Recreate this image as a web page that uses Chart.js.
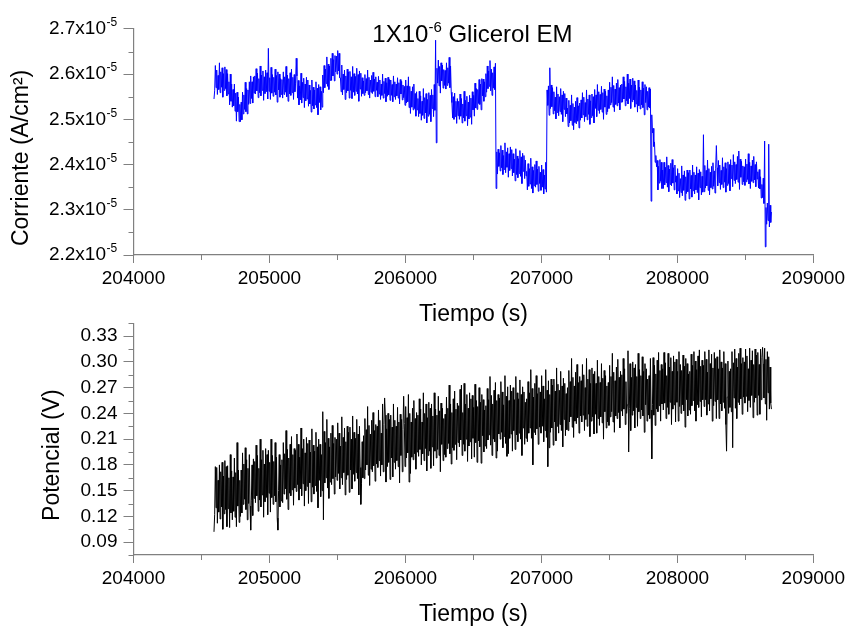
<!DOCTYPE html>
<html>
<head>
<meta charset="utf-8">
<script src="https://cdn.jsdelivr.net/npm/chart.js@4.4.0/dist/chart.umd.min.js"></script>
<style>
    body { margin: 0; background: #fff; }
    #wrap { position: relative; width: 849px; height: 626px; }
    canvas { position: absolute; left: 0; }
    #currentChart { top: 0; }
    #potentialChart { top: 300px; }
</style>
</head>
<body>
<div id="wrap">
    <canvas id="currentChart" width="849" height="326"></canvas>
    <canvas id="potentialChart" width="849" height="326"></canvas>
</div>
<script>
// sampling: first point at T0 seconds, one point every DT seconds
const T0 = 204592;
const DT = 5;

// current density, in 1e-8 A/cm2 (2585 -> 2.585x10^-5), one row = 100 s
const current = [
    2545, 2563, 2619, 2570, 2609, 2555, 2597, 2566, 2625, 2559, 2605, 2571, 2614, 2549, 2601, 2564, 2616, 2568, 2610, 2552,
    2601, 2556, 2583, 2532, 2600, 2540, 2578, 2527, 2566, 2530, 2578, 2518, 2558, 2496, 2560, 2517, 2549, 2495, 2533, 2495,
    2538, 2499, 2560, 2512, 2554, 2522, 2582, 2517, 2568, 2512, 2565, 2533, 2583, 2535, 2596, 2546, 2583, 2536, 2594, 2558,
    2596, 2556, 2612, 2563, 2602, 2548, 2590, 2559, 2618, 2552, 2598, 2564, 2607, 2542, 2594, 2557, 2609, 2561, 2603, 2545,
    2657, 2562, 2592, 2544, 2615, 2558, 2599, 2551, 2593, 2560, 2611, 2554, 2597, 2538, 2605, 2565, 2600, 2549, 2590, 2555,
    2588, 2547, 2605, 2555, 2594, 2560, 2617, 2550, 2598, 2540, 2590, 2556, 2603, 2553, 2611, 2559, 2593, 2544, 2599, 2561,
    2580, 2635, 2596, 2547, 2586, 2532, 2574, 2543, 2602, 2536, 2582, 2548, 2591, 2526, 2578, 2541, 2593, 2545, 2587, 2529,
    2576, 2534, 2564, 2516, 2587, 2530, 2571, 2523, 2565, 2532, 2583, 2526, 2569, 2510, 2577, 2537, 2572, 2521, 2562, 2527,
    2598, 2559, 2619, 2570, 2611, 2579, 2638, 2573, 2622, 2566, 2618, 2586, 2635, 2586, 2646, 2596, 2632, 2585, 2641, 2605,
    2640, 2600, 2652, 2607, 2646, 2592, 2592, 2561, 2620, 2554, 2600, 2566, 2609, 2544, 2596, 2559, 2611, 2563, 2605, 2547,
    2606, 2564, 2594, 2546, 2617, 2560, 2601, 2553, 2595, 2562, 2613, 2556, 2599, 2540, 2607, 2567, 2602, 2551, 2592, 2557,
    2585, 2553, 2599, 2559, 2590, 2563, 2609, 2555, 2593, 2547, 2587, 2560, 2597, 2557, 2604, 2562, 2589, 2550, 2594, 2564,
    2582, 2550, 2595, 2556, 2587, 2544, 2578, 2553, 2600, 2547, 2584, 2557, 2591, 2539, 2581, 2551, 2593, 2554, 2588, 2542,
    2587, 2553, 2577, 2539, 2596, 2550, 2583, 2544, 2578, 2552, 2592, 2547, 2581, 2534, 2588, 2556, 2584, 2543, 2576, 2548,
    2573, 2531, 2587, 2536, 2574, 2539, 2594, 2526, 2573, 2513, 2562, 2527, 2572, 2521, 2578, 2524, 2557, 2507, 2561, 2521,
    2546, 2506, 2562, 2513, 2552, 2498, 2540, 2509, 2568, 2502, 2548, 2514, 2557, 2492, 2544, 2507, 2559, 2511, 2553, 2495,
    2566, 2524, 2554, 2506, 2577, 2520, 2675, 2448, 2613, 2580, 2631, 2574, 2617, 2558, 2625, 2585, 2620, 2569, 2610, 2575,
    2608, 2567, 2625, 2575, 2614, 2580, 2637, 2570, 2618, 2560, 2537, 2503, 2550, 2500, 2558, 2506, 2540, 2491, 2546, 2508,
    2540, 2500, 2556, 2507, 2546, 2492, 2534, 2503, 2562, 2496, 2542, 2508, 2551, 2486, 2538, 2501, 2553, 2505, 2547, 2489,
    2561, 2521, 2553, 2507, 2580, 2525, 2568, 2522, 2566, 2535, 2588, 2533, 2578, 2521, 2590, 2552, 2589, 2540, 2583, 2550,
    2601, 2560, 2618, 2568, 2607, 2573, 2630, 2563, 2611, 2553, 2603, 2569, 2616, 2566, 2624, 2347, 2428, 2379, 2434, 2396,
    2426, 2386, 2442, 2393, 2432, 2378, 2420, 2389, 2448, 2382, 2428, 2394, 2437, 2372, 2424, 2387, 2439, 2391, 2433, 2375,
    2424, 2382, 2412, 2364, 2435, 2378, 2419, 2371, 2413, 2380, 2431, 2374, 2417, 2358, 2425, 2385, 2420, 2369, 2410, 2375,
    2385, 2344, 2402, 2352, 2391, 2357, 2414, 2347, 2395, 2337, 2387, 2353, 2400, 2350, 2408, 2356, 2390, 2341, 2396, 2358,
    2383, 2343, 2399, 2350, 2389, 2335, 2377, 2346, 2405, 2339, 2565, 2531, 2574, 2509, 2614, 2524, 2576, 2528, 2570, 2512,
    2561, 2519, 2549, 2501, 2572, 2515, 2556, 2508, 2550, 2517, 2568, 2511, 2554, 2495, 2562, 2522, 2557, 2506, 2547, 2512,
    2525, 2484, 2542, 2492, 2531, 2497, 2554, 2487, 2535, 2477, 2527, 2493, 2540, 2490, 2548, 2496, 2530, 2481, 2536, 2498,
    2543, 2503, 2559, 2510, 2549, 2495, 2537, 2506, 2565, 2499, 2545, 2511, 2554, 2489, 2541, 2504, 2556, 2508, 2550, 2492,
    2566, 2524, 2554, 2506, 2577, 2520, 2561, 2513, 2555, 2522, 2573, 2516, 2559, 2500, 2567, 2527, 2562, 2511, 2552, 2517,
    2565, 2524, 2582, 2532, 2571, 2537, 2594, 2527, 2575, 2517, 2567, 2533, 2580, 2530, 2588, 2536, 2570, 2521, 2576, 2538,
    2578, 2538, 2594, 2545, 2584, 2530, 2572, 2541, 2600, 2534, 2580, 2546, 2589, 2524, 2576, 2539, 2591, 2543, 2585, 2527,
    2576, 2534, 2564, 2516, 2587, 2530, 2571, 2523, 2565, 2532, 2583, 2526, 2569, 2510, 2577, 2537, 2572, 2521, 2562, 2527,
    2570, 2525, 2567, 2319, 2510, 2470, 2480, 2440, 2450, 2405, 2420, 2395, 2409, 2344, 2396, 2359, 2411, 2363, 2405, 2347,
    2388, 2347, 2405, 2355, 2394, 2360, 2417, 2350, 2398, 2340, 2390, 2356, 2403, 2353, 2411, 2359, 2393, 2344, 2399, 2361,
    2375, 2335, 2391, 2342, 2381, 2327, 2369, 2338, 2397, 2331, 2377, 2343, 2386, 2321, 2373, 2336, 2388, 2340, 2382, 2324,
    2388, 2346, 2376, 2328, 2399, 2342, 2383, 2335, 2377, 2344, 2395, 2338, 2381, 2322, 2389, 2349, 2384, 2333, 2374, 2339,
    2466, 2340, 2398, 2348, 2387, 2353, 2410, 2343, 2391, 2333, 2383, 2349, 2396, 2346, 2404, 2352, 2386, 2337, 2392, 2442,
    2393, 2353, 2409, 2360, 2399, 2345, 2387, 2356, 2415, 2349, 2395, 2361, 2404, 2339, 2391, 2354, 2406, 2358, 2400, 2342,
    2411, 2369, 2399, 2351, 2422, 2365, 2406, 2358, 2400, 2367, 2418, 2361, 2430, 2345, 2412, 2372, 2407, 2356, 2397, 2362,
    2395, 2354, 2412, 2362, 2401, 2367, 2424, 2357, 2405, 2347, 2397, 2363, 2410, 2360, 2418, 2366, 2400, 2351, 2406, 2368,
    2384, 2348, 2389, 2346, 2373, 2326, 2356, 2327, 2370, 2314, 2452, 2218, 2305, 2268, 2315, 2276, 2445, 2262, 2310, 2272,
    2295
];

// potential, in mV, one row = 100 s
const potential = [
    102, 122, 178, 130, 177, 112, 162, 125, 180, 117, 172, 131, 183, 105, 167, 123, 185, 128, 178, 108,
    179, 129, 165, 107, 192, 124, 173, 116, 166, 126, 188, 119, 171, 108, 206, 132, 174, 113, 162, 120,
    174, 124, 194, 134, 181, 140, 200, 128, 186, 116, 176, 135, 192, 132, 104, 139, 180, 121, 187, 141,
    184, 136, 203, 144, 191, 126, 176, 139, 210, 131, 186, 145, 197, 119, 181, 137, 199, 142, 192, 122,
    197, 147, 183, 125, 210, 142, 191, 134, 184, 144, 206, 137, 189, 118, 104, 150, 192, 131, 180, 138,
    186, 136, 206, 146, 193, 152, 220, 140, 198, 128, 188, 147, 204, 144, 213, 151, 192, 133, 199, 153,
    197, 149, 216, 157, 204, 139, 189, 152, 223, 144, 199, 158, 210, 132, 194, 150, 212, 155, 205, 135,
    209, 159, 195, 137, 222, 154, 203, 146, 196, 156, 218, 149, 201, 130, 210, 162, 204, 143, 192, 150,
    242, 116, 219, 159, 206, 165, 233, 153, 211, 141, 201, 160, 217, 157, 226, 164, 205, 146, 212, 166,
    210, 162, 229, 170, 217, 152, 202, 165, 236, 157, 212, 171, 223, 145, 207, 163, 225, 168, 218, 148,
    224, 174, 210, 152, 237, 169, 218, 161, 211, 171, 233, 164, 216, 145, 225, 177, 134, 158, 207, 165,
    214, 164, 234, 174, 221, 180, 248, 168, 226, 156, 216, 175, 232, 172, 241, 179, 220, 161, 227, 181,
    225, 177, 244, 185, 232, 167, 217, 180, 251, 172, 227, 258, 238, 160, 222, 178, 240, 183, 233, 163,
    238, 188, 224, 166, 251, 183, 232, 175, 225, 185, 247, 178, 230, 159, 239, 191, 233, 172, 221, 260,
    228, 178, 248, 188, 235, 194, 262, 160, 240, 170, 230, 189, 246, 186, 255, 193, 234, 175, 241, 195,
    238, 190, 257, 198, 245, 180, 230, 193, 264, 185, 240, 199, 251, 173, 235, 191, 253, 196, 246, 176,
    251, 201, 237, 179, 264, 196, 245, 188, 238, 198, 260, 191, 243, 172, 252, 204, 246, 185, 234, 192,
    239, 189, 259, 199, 246, 205, 273, 193, 251, 181, 241, 200, 257, 197, 266, 204, 245, 186, 252, 206,
    249, 201, 268, 209, 273, 191, 241, 204, 275, 196, 251, 210, 262, 184, 246, 202, 264, 207, 257, 187,
    261, 211, 247, 189, 274, 206, 255, 183, 248, 208, 270, 201, 253, 182, 262, 214, 256, 195, 244, 202,
    249, 199, 269, 209, 256, 215, 283, 203, 261, 191, 251, 210, 267, 207, 276, 188, 255, 196, 262, 216,
    258, 210, 277, 218, 265, 200, 250, 213, 284, 205, 260, 190, 271, 193, 255, 211, 273, 216, 266, 196,
    270, 220, 256, 198, 283, 215, 264, 207, 257, 217, 279, 210, 262, 191, 271, 223, 265, 204, 253, 211,
    257, 207, 277, 217, 264, 223, 291, 211, 269, 180, 259, 218, 275, 215, 284, 222, 263, 204, 270, 224,
    265, 217, 284, 225, 272, 207, 257, 220, 291, 212, 267, 178, 278, 200, 262, 218, 280, 223, 273, 203,
    280, 230, 266, 208, 293, 225, 274, 217, 267, 227, 289, 220, 272, 201, 281, 233, 275, 214, 263, 221,
    270, 220, 290, 230, 277, 236, 304, 224, 282, 212, 272, 231, 288, 228, 297, 235, 276, 217, 283, 237,
    278, 230, 297, 238, 285, 220, 270, 233, 304, 225, 280, 239, 291, 213, 275, 231, 293, 236, 286, 216,
    289, 239, 275, 217, 302, 234, 283, 226, 276, 236, 298, 229, 281, 210, 290, 242, 284, 223, 272, 230,
    276, 226, 296, 236, 283, 242, 310, 230, 288, 218, 278, 237, 294, 234, 303, 241, 282, 223, 289, 243,
    285, 237, 304, 245, 292, 227, 277, 240, 250, 313, 195, 246, 298, 220, 282, 238, 300, 243, 293, 223,
    297, 247, 283, 225, 310, 242, 291, 234, 284, 244, 306, 237, 289, 218, 298, 250, 292, 231, 280, 238,
    284, 234, 304, 244, 187, 250, 305, 238, 296, 226, 286, 245, 302, 242, 311, 249, 290, 231, 297, 251,
    292, 244, 311, 252, 299, 234, 284, 247, 310, 239, 294, 253, 305, 227, 289, 245, 307, 250, 300, 230,
    303, 253, 289, 231, 312, 248, 297, 240, 290, 250, 308, 243, 295, 224, 304, 256, 298, 237, 286, 244,
    289, 239, 309, 249, 296, 255, 312, 243, 301, 231, 291, 250, 307, 247, 314, 254, 295, 236, 302, 256,
    296, 248, 312, 256, 303, 238, 288, 251, 314, 243, 298, 257, 309, 231, 293, 249, 311, 254, 304, 234,
    306, 256, 292, 234, 314, 251, 300, 243, 293, 253, 312, 246, 298, 227, 196, 259, 301, 240, 289, 247,
    292, 242, 312, 200, 299, 258, 315, 246, 304, 234, 294, 253, 310, 250, 316, 257, 298, 239, 305, 259,
    300, 252, 315, 260, 307, 242, 292, 255, 316, 247, 302, 261, 313, 235, 297, 253, 315, 258, 308, 238,
    311, 261, 297, 239, 315, 256, 305, 317, 298, 258, 316, 251, 303, 232, 312, 264, 306, 245, 294, 252,
    245
];

const timeTicks = [204000, 205000, 206000, 207000, 208000, 209000];
const timeMinor = [204500, 205500, 206500, 207500, 208500];
const currentTicks = [2.2, 2.3, 2.4, 2.5, 2.6, 2.7];
const currentMinor = [2.25, 2.35, 2.45, 2.55, 2.65];
const potentialTicks = [0.09, 0.12, 0.15, 0.18, 0.21, 0.24, 0.27, 0.30, 0.33];
const potentialMinor = [0.075, 0.105, 0.135, 0.165, 0.195, 0.225, 0.255, 0.285, 0.315, 0.345];

const FONT = '"Liberation Sans", Arial, sans-serif';
const AXIS = '#808080';
Chart.defaults.font.family = FONT;
Chart.defaults.color = '#000';

// short ticks between the labelled ones
const minorTicks = {
    id: 'minorTicks',
    afterDraw(chart, args, opts) {
        const { ctx, scales: { x, y } } = chart;
        ctx.save();
        ctx.strokeStyle = AXIS;
        ctx.lineWidth = 1;
        ctx.beginPath();
        opts.x.forEach(v => {
            const px = Math.round(x.getPixelForValue(v)) + 0.5;
            ctx.moveTo(px, x.top);
            ctx.lineTo(px, x.top + 5);
        });
        opts.y.forEach(v => {
            const py = Math.round(y.getPixelForValue(v)) + 0.5;
            ctx.moveTo(y.right - 5, py);
            ctx.lineTo(y.right, py);
        });
        ctx.stroke();
        ctx.restore();
    }
};

// x10^-5 exponents on the y labels and the title with its superscript
const currentText = {
    id: 'currentText',
    afterDraw(chart) {
        const { ctx, scales: { y }, chartArea } = chart;
        ctx.save();
        ctx.fillStyle = '#000';
        ctx.textAlign = 'left';
        ctx.textBaseline = 'middle';
        ctx.font = `12px ${FONT}`;
        const lx = y.right - 10 - 17.5 + 0.5;
        y.ticks.forEach(t => ctx.fillText('-5', lx, y.getPixelForValue(t.value) - 6));

        ctx.textBaseline = 'alphabetic';
        const big = `24px ${FONT}`, small = `15px ${FONT}`;
        ctx.font = big;
        const w1 = ctx.measureText('1X10').width;
        const w3 = ctx.measureText(' Glicerol EM').width;
        ctx.font = small;
        const w2 = ctx.measureText('-6').width;
        let x = (chartArea.left + chartArea.right) / 2 - 1 - (w1 + w2 + w3) / 2;
        const base = 41.7;
        ctx.font = big;
        ctx.fillText('1X10', x, base);
        ctx.font = small;
        ctx.fillText('-6', x + w1, base - 10);
        ctx.font = big;
        ctx.fillText(' Glicerol EM', x + w1 + w2, base);
        ctx.restore();
    }
};

function makeChart(id, values, scaleBy, color, yTicks, yMinor, yLabel, yTitle, yTitlePad, yLabelPad, extra) {
    const points = values.map((v, i) => ({ x: T0 + i * DT, y: v / scaleBy }));
    return new Chart(document.getElementById(id), {
        type: 'line',
        data: {
            datasets: [{
                data: points,
                borderColor: color,
                borderWidth: 1,
                borderJoinStyle: 'round',
                pointRadius: 0,
                tension: 0
            }]
        },
        options: {
            responsive: false,
            animation: false,
            events: [],
            layout: { padding: { left: 0, top: 23.3, right: 35.5, bottom: 0 } },
            plugins: {
                legend: { display: false },
                tooltip: { enabled: false },
                minorTicks: { x: timeMinor, y: yMinor }
            },
            scales: {
                x: {
                    type: 'linear',
                    min: 204000,
                    max: 209000,
                    afterBuildTicks: s => { s.ticks = timeTicks.map(v => ({ value: v })); },
                    afterFit: s => { s.height = 71; },
                    border: { color: AXIS, width: 1.2 },
                    grid: { drawOnChartArea: false, tickLength: 8, tickColor: AXIS, tickWidth: 1 },
                    ticks: { font: { size: 19 }, padding: 4, maxRotation: 0, callback: v => String(v) },
                    title: { display: true, text: 'Tiempo (s)', font: { size: 23 }, padding: { top: 0, bottom: -2 } }
                },
                y: {
                    min: yTicks.min,
                    max: yTicks.max,
                    afterBuildTicks: s => { s.ticks = yTicks.list.map(v => ({ value: v })); },
                    afterFit: s => { s.width = 133.5; },
                    border: { color: AXIS, width: 1.2 },
                    grid: { drawOnChartArea: false, tickLength: 10, tickColor: AXIS, tickWidth: 1 },
                    ticks: { font: { size: 19 }, padding: yLabelPad, callback: yLabel },
                    title: { display: true, text: yTitle, font: { size: 23 }, padding: { top: yTitlePad, bottom: 0 } }
                }
            }
        },
        plugins: [minorTicks].concat(extra)
    });
}

makeChart('currentChart', current, 1000, '#0000ff',
    { min: 2.2, max: 2.7, list: currentTicks }, currentMinor,
    v => v.toFixed(1) + 'x10', 'Corriente (A/cm\u00b2)     ', 8, 17.5, [currentText]);

makeChart('potentialChart', potential, 1000, '#000000',
    { min: 0.075, max: 0.345, list: potentialTicks }, potentialMinor,
    v => v.toFixed(2), 'Potencial (V)     ', 39, 6, []);
</script>
</body>
</html>
